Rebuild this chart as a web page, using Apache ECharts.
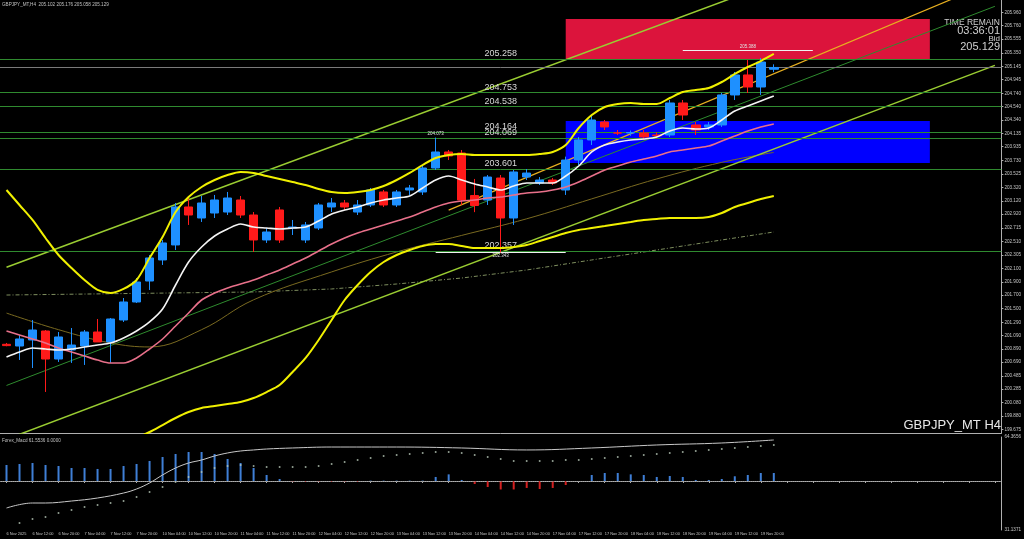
<!DOCTYPE html>
<html><head><meta charset="utf-8">
<script src="https://cdn.jsdelivr.net/npm/echarts@6/dist/echarts.min.js"></script>
<style>html,body{margin:0;padding:0;background:#000;}#c{width:1024px;height:539px;}</style>
</head><body><div id="c"></div>
<script>
// ---------- data ----------
const symbolName = 'GBPJPY_MT';
const timeframe = 'H4';
const barTimes = ['6 Nov 2025','6 Nov 08:00','6 Nov 12:00','6 Nov 16:00','6 Nov 20:00',
 '7 Nov 00:00','7 Nov 04:00','7 Nov 08:00','7 Nov 12:00','7 Nov 16:00','7 Nov 20:00',
 '10 Nov 00:00','10 Nov 04:00','10 Nov 08:00','10 Nov 12:00','10 Nov 16:00','10 Nov 20:00',
 '11 Nov 00:00','11 Nov 04:00','11 Nov 08:00','11 Nov 12:00','11 Nov 16:00','11 Nov 20:00',
 '12 Nov 00:00','12 Nov 04:00','12 Nov 08:00','12 Nov 12:00','12 Nov 16:00','12 Nov 20:00',
 '13 Nov 00:00','13 Nov 04:00','13 Nov 08:00','13 Nov 12:00','13 Nov 16:00','13 Nov 20:00',
 '14 Nov 00:00','14 Nov 04:00','14 Nov 08:00','14 Nov 12:00','14 Nov 16:00','14 Nov 20:00',
 '17 Nov 00:00','17 Nov 04:00','17 Nov 08:00','17 Nov 12:00','17 Nov 16:00','17 Nov 20:00',
 '18 Nov 00:00','18 Nov 04:00','18 Nov 08:00','18 Nov 12:00','18 Nov 16:00','18 Nov 20:00',
 '19 Nov 00:00','19 Nov 04:00','19 Nov 08:00','19 Nov 12:00','19 Nov 16:00','19 Nov 20:00',
 '20 Nov 00:00'];
const futureSlots = 17;
// [open, high, low, close]
const ohlc = [
 [200.96,200.98,200.93,200.94],[200.934,201.100,200.724,201.040],[201.025,201.326,200.603,201.175],
 [201.160,201.175,200.242,200.738],[200.738,201.145,200.694,201.070],[200.874,201.205,200.679,200.949],
 [200.934,201.175,200.649,201.145],[201.145,201.341,200.995,200.995],[200.995,201.356,200.679,201.341],
 [201.326,201.657,201.296,201.597],[201.597,201.958,201.582,201.898],[201.913,202.305,201.778,202.260],
 [202.230,202.531,202.155,202.486],[202.456,203.088,202.380,203.028],[203.028,203.193,202.757,202.907],
 [202.862,203.193,202.802,203.088],[202.937,203.209,202.862,203.133],[202.952,203.254,202.907,203.163],
 [203.133,203.193,202.862,202.907],[202.907,202.952,202.350,202.531],[202.531,202.711,202.486,202.651],
 [202.983,203.028,202.486,202.531],[202.711,202.832,202.606,202.726],[202.531,202.802,202.486,202.757],
 [202.711,203.088,202.681,203.058],[203.028,203.163,202.952,203.088],[203.088,203.133,202.983,203.028],
 [202.952,203.133,202.907,203.058],[203.058,203.314,203.028,203.284],[203.254,203.284,203.028,203.058],
 [203.058,203.284,203.028,203.254],[203.284,203.359,203.209,203.314],[203.254,203.660,203.209,203.615],
 [203.615,204.073,203.585,203.856],[203.856,203.886,203.735,203.796],[203.841,203.886,203.058,203.133],
 [203.200,203.450,202.950,203.050],[203.133,203.509,203.058,203.479],[203.464,203.509,202.343,202.862],
 [202.862,203.585,202.757,203.555],[203.479,203.600,203.434,203.539],[203.389,203.479,203.359,203.434],
 [203.434,203.464,203.359,203.389],[203.284,203.786,203.209,203.735],[203.735,204.082,203.660,204.037],
 [204.037,204.400,203.961,204.338],[204.308,204.338,204.187,204.233],[204.142,204.187,204.112,204.142],
 [204.142,204.180,204.100,204.150],[204.142,204.187,204.037,204.082],[204.112,204.150,204.060,204.100],
 [204.112,204.639,204.082,204.594],[204.594,204.639,204.338,204.413],[204.263,204.308,204.112,204.187],
 [204.233,204.308,204.187,204.263],[204.263,204.745,204.233,204.715],[204.715,205.061,204.639,205.016],
 [205.016,205.242,204.745,204.835],[204.835,205.272,204.715,205.211],[205.102,205.176,205.058,205.129]];
const maFast = [200.769,200.844,200.904,200.889,200.874,200.889,200.919,200.949,200.979,201.055,
 201.160,201.296,201.491,201.853,202.199,202.425,202.591,202.696,202.772,202.726,
 202.711,202.696,202.711,202.726,202.817,202.922,202.982,203.028,203.088,203.133,
 203.163,203.193,203.314,203.434,203.494,203.434,203.374,203.329,203.284,203.344,
 203.389,203.389,203.389,203.494,203.645,203.856,203.961,204.006,204.037,204.052,
 204.082,204.172,204.217,204.202,204.217,204.338,204.473,204.549,204.624,204.699];
const maSlow = [201.160,201.100,201.040,200.979,200.904,200.844,200.784,200.723,200.678,200.678,
 200.754,200.889,201.040,201.235,201.431,201.627,201.732,201.808,201.868,201.928,
 202.003,202.079,202.169,202.260,202.365,202.470,202.561,202.636,202.696,202.756,
 202.817,202.877,202.952,203.028,203.088,203.118,203.133,203.163,203.178,203.208,
 203.238,203.253,203.284,203.329,203.404,203.494,203.585,203.645,203.705,203.750,
 203.796,203.856,203.886,203.916,203.946,204.022,204.097,204.172,204.232,204.278];
const bandUpper = [203.284,203.058,202.832,202.561,202.305,202.109,201.928,201.778,201.732,201.793,
 201.928,202.260,202.576,202.952,203.178,203.329,203.434,203.509,203.555,203.540,
 203.494,203.449,203.404,203.359,203.299,203.253,203.238,203.253,203.284,203.344,
 203.434,203.540,203.660,203.766,203.811,203.826,203.811,203.811,203.811,203.811,
 203.811,203.826,203.856,203.961,204.217,204.413,204.534,204.579,204.594,204.579,
 204.579,204.669,204.759,204.790,204.820,204.910,205.031,205.136,205.226,205.332];
const bandLower = [199.443,199.413,199.383,199.368,199.353,199.338,199.338,199.368,199.398,199.458,
 199.549,199.639,199.744,199.850,199.940,200.001,200.031,200.061,200.091,200.151,
 200.241,200.347,200.543,200.754,201.025,201.326,201.627,201.853,202.049,202.199,
 202.305,202.380,202.440,202.470,202.470,202.440,202.410,202.410,202.410,202.425,
 202.455,202.516,202.576,202.636,202.681,202.711,202.741,202.772,202.802,202.832,
 202.847,202.862,202.862,202.862,202.877,202.937,203.028,203.088,203.148,203.193];
const maOlive = [[0,201.43],[4,201.18],[8,200.98],[11,200.92],[15,201.18],[19,201.63],
 [25,202.05],[30,202.35],[35,202.60],[40,202.85],[45,203.15],[50,203.45],[55,203.70],[59,203.85]];
const maLong = [[0,201.702],[19,201.748],[25,201.793],[30,201.868],[35,201.958],[40,202.079],
 [45,202.230],[50,202.380],[55,202.531],[59,202.651]];
const trendA = [[0,202.12],[60,206.48]];
const trendB = [[0,199.53],[76,205.16]];
const trendC = [[0,200.34],[76,206.05]];
const trendGold = [[34,202.98],[76,206.43]];
const levels = ['205.258','204.753','204.538','204.164','204.069','203.601','202.357'];
const bidPrice = '205.129';
const zoneRed = [43, 71, 205.859, 205.258];
const zoneBlue = [43, 71, 204.323, 203.690];
const highMark = {from:52, to:62, price:'205.388'};
const lowMark = {from:33, to:43, price:'202.343'};
const swingHigh = {bar:33, price:'204.073'};
const priceTicks = ['205.960','205.760','205.555','205.350','205.145','204.945','204.740','204.540',
 '204.340','204.135','203.935','203.730','203.525','203.320','203.120','202.920','202.715','202.510',
 '202.305','202.100','201.900','201.700','201.500','201.290','201.090','200.890','200.690','200.485',
 '200.285','200.080','199.880','199.675'];
const macdHist = [23.4,24.9,26.3,23.4,21.9,19.0,19.0,17.6,17.6,21.9,24.9,29.3,35.1,39.5,42.4,42.4,
 39.5,32.2,26.3,19.0,8.8,2.9,-1.0,-1.0,-1.0,-1.0,-1.0,-1.0,0.5,0.5,0.5,0.5,0.5,5.9,9.7,1.5,
 -4.4,-8.8,-12.4,-12.4,-10.2,-11.7,-10.2,-5.9,0,8.8,11.7,11.7,9.7,8.8,5.9,7.3,5.9,1.5,1.5,2.9,
 6.9,8.8,11.7,11.7];
const macdLine = [[0,-39.5],[2,-32.2],[3,-32.2],[5,-29.3],[7,-24.9],[9,-17.6],[10,-11.7],[11,-2.9],
 [12,8.8],[13,19.0],[14,26.3],[15,30.7],[16,36.6],[17,41.0],[18,43.9],[19,45.4],[20,46.8],
 [22,48.3],[25,49.7],[30,49.7],[35,48.3],[40,45.4],[45,48.3],[50,52.7],[55,55.6],[59,60.0]];
const macdSignal = [null,-61.4,-55.6,-52.7,-46.8,-42.4,-38.0,-35.1,-32.2,-29.3,-23.4,-16.1,-8.8,-1.5,
 5.9,13.2,19.0,21.9,23.4,21.9,20.5,20.5,20.5,20.5,21.9,24.9,27.8,30.7,33.6,36.6,38.0,39.5,41.0,
 42.4,42.4,41.0,38.0,35.1,32.2,29.3,29.3,29.3,29.3,30.7,30.7,32.2,33.6,35.1,36.6,38.0,39.5,41.0,
 42.4,43.9,45.4,46.8,48.3,49.7,51.2,52.7];
const subTicks = ['64.3656','31.1371'];
const subRange = [-71.7, 64.3656];
const subTitle = 'Forex_Macd 61.5536 0.0000';
const timeRemain = '03:36:01';

// ---------- build ----------
const cats = barTimes.concat(new Array(futureSlots).fill(''));
const last = ohlc[ohlc.length - 1];
const candleData = ohlc.map(d => [d[0], d[3], d[2], d[1]]);
const BULL = '#1e90ff', BEAR = '#ff1a1a';
const FONT = 'Liberation Sans';
const gridL = -7.56, gridR = 21;

const levelLines = levels.map(v => ({yAxis: +v, label: {formatter: v}}));
const levelBoxes = levels.map(v => ({yAxis: +v, label: {formatter: v}}))
  .concat([{yAxis: +bidPrice, label: {formatter: bidPrice, backgroundColor: '#f0f0f0', color: '#000'}}]);

const chart = echarts.init(document.getElementById('c'));
chart.setOption({
  backgroundColor: '#000',
  animation: false,
  grid: [
    {left: gridL, right: gridR, top: 0, height: 433},
    {left: gridL, right: gridR, top: 437, height: 93}
  ],
  xAxis: [
    {type: 'category', gridIndex: 0, data: cats, boundaryGap: true,
     axisLine: {show: true, lineStyle: {color: '#b0b0b0', width: 1}},
     axisTick: {show: false}, axisLabel: {show: false}, splitLine: {show: false}},
    {type: 'category', gridIndex: 1, data: cats, boundaryGap: true,
     axisLine: {show: true, lineStyle: {color: '#b0b0b0', width: 1}},
     axisTick: {show: true, interval: 1, alignWithLabel: true, length: 2, lineStyle: {color: '#b0b0b0'}},
     axisLabel: {show: true, interval: 1, align: 'left', color: '#c8c8c8', fontSize: 3.9, fontFamily: FONT, margin: 2},
     splitLine: {show: false}}
  ],
  yAxis: [
    {type: 'value', gridIndex: 0, position: 'right', min: 199.624, max: 206.145,
     splitLine: {show: false},
     axisLine: {show: true, lineStyle: {color: '#b0b0b0'}},
     axisTick: {show: true, length: 2, customValues: priceTicks.map(Number), lineStyle: {color: '#b0b0b0'}},
     axisLabel: {customValues: priceTicks.map(Number), formatter: v => v.toFixed(3),
       color: '#c8c8c8', fontSize: 4.6, fontFamily: FONT, margin: 3}},
    {type: 'value', gridIndex: 1, position: 'right', min: subRange[0], max: subRange[1],
     splitLine: {show: false},
     axisLine: {show: true, lineStyle: {color: '#b0b0b0'}},
     axisTick: {show: false},
     axisLabel: {customValues: [subRange[1], subRange[0]],
       formatter: v => (v === subRange[1] ? subTicks[0] : subTicks[1]),
       color: '#c8c8c8', fontSize: 4.6, fontFamily: FONT, margin: 3}}
  ],
  series: [
    {type: 'line', name: 'zones', xAxisIndex: 0, yAxisIndex: 0, data: [], z: 1,
     markArea: {silent: true, data: [
       [{coord: [zoneRed[0], zoneRed[2]], itemStyle: {color: '#dc143c'}}, {coord: [zoneRed[1], zoneRed[3]]}],
       [{coord: [zoneBlue[0], zoneBlue[2]], itemStyle: {color: '#0000ff'}}, {coord: [zoneBlue[1], zoneBlue[3]]}]
     ]}},
    {type: 'line', name: 'levels', xAxisIndex: 0, yAxisIndex: 0, data: [], z: 2,
     markLine: {silent: true, symbol: 'none', animation: false,
       lineStyle: {color: '#2f8a2f', width: 1, type: 'solid'},
       label: {show: true, position: 'insideMiddleTop', distance: 1, color: '#d8d8d8', fontSize: 9, fontFamily: FONT},
       data: levelLines.concat([{yAxis: +bidPrice, lineStyle: {color: '#7a7a7a'}, label: {show: false}}])}},
    {type: 'line', name: 'boxes', xAxisIndex: 0, yAxisIndex: 0, data: [], z: 20,
     markLine: {silent: true, symbol: 'none', animation: false,
       lineStyle: {opacity: 0},
       label: {show: true, position: 'end', distance: 1, color: '#000', backgroundColor: '#1ec81e',
         fontSize: 4.6, fontFamily: FONT, padding: [1, 1, 1, 1]},
       data: levelBoxes}},
    {type: 'line', name: 'marks', xAxisIndex: 0, yAxisIndex: 0, data: [], z: 6,
     markLine: {silent: true, symbol: 'none', animation: false,
       lineStyle: {color: '#f0f0f0', width: 1, type: 'solid'},
       label: {show: true, color: '#e0e0e0', fontSize: 4.5, fontFamily: FONT},
       data: [
         [{coord: [highMark.from, +highMark.price], label: {position: 'insideMiddleTop', formatter: highMark.price, distance: 1}},
          {coord: [highMark.to, +highMark.price]}],
         [{coord: [lowMark.from, +lowMark.price], label: {position: 'insideMiddleBottom', formatter: lowMark.price, distance: 1}},
          {coord: [lowMark.to, +lowMark.price]}]
       ]},
     markPoint: {silent: true, symbolSize: 0, animation: false,
       label: {show: true, position: 'top', color: '#e0e0e0', fontSize: 4.5, fontFamily: FONT, distance: 1},
       data: [{coord: [swingHigh.bar, +swingHigh.price], value: swingHigh.price}]}},
    {type: 'line', name: 'trendC', data: trendC, symbol: 'none', z: 3,
     lineStyle: {color: '#2e8b2e', width: 1}},
    {type: 'line', name: 'maLong', data: maLong, symbol: 'none', z: 3,
     lineStyle: {color: '#7f8f5f', width: 1, type: [4, 2, 1, 2]}},
    {type: 'line', name: 'maOlive', data: maOlive, symbol: 'none', z: 3, smooth: 0.4,
     lineStyle: {color: '#7a6a20', width: 1}},
    {type: 'line', name: 'trendA', data: trendA, symbol: 'none', z: 3,
     lineStyle: {color: '#9acd32', width: 1.5}},
    {type: 'line', name: 'trendB', data: trendB, symbol: 'none', z: 3,
     lineStyle: {color: '#9acd32', width: 1.5}},
    {type: 'line', name: 'trendGold', data: trendGold, symbol: 'none', z: 3,
     lineStyle: {color: '#e8b020', width: 1.2}},
    {type: 'candlestick', name: symbolName, xAxisIndex: 0, yAxisIndex: 0, data: candleData, z: 5,
     barWidth: 9,
     itemStyle: {color: BULL, color0: BEAR, borderColor: BULL, borderColor0: BEAR, borderWidth: 1}},
    {type: 'line', name: 'bandUpper', data: bandUpper, symbol: 'none', z: 7, smooth: 0.3,
     lineStyle: {color: '#f0f000', width: 2}},
    {type: 'line', name: 'bandLower', data: bandLower, symbol: 'none', z: 7, smooth: 0.3,
     lineStyle: {color: '#f0f000', width: 2}},
    {type: 'line', name: 'maSlow', data: maSlow, symbol: 'none', z: 7, smooth: 0.3,
     lineStyle: {color: '#e8708a', width: 1.6}},
    {type: 'line', name: 'maFast', data: maFast, symbol: 'none', z: 8, smooth: 0.3,
     lineStyle: {color: '#f4f4f4', width: 1.6}},
    // sub window
    {type: 'bar', name: 'hist', xAxisIndex: 1, yAxisIndex: 1, data: macdHist, barWidth: 2, z: 3,
     itemStyle: {color: p => (p.value >= 0 ? '#3f7fd6' : '#d42020')},
     markLine: {silent: true, symbol: 'none', animation: false, label: {show: false},
       lineStyle: {color: '#909090', width: 1, type: 'dotted'}, data: [{yAxis: 0}]}},
    {type: 'line', name: 'macdLine', xAxisIndex: 1, yAxisIndex: 1, data: macdLine, symbol: 'none', smooth: 0.4, z: 4,
     lineStyle: {color: '#c8c8c8', width: 1}},
    {type: 'scatter', name: 'signal', xAxisIndex: 1, yAxisIndex: 1, data: macdSignal, symbolSize: 2, z: 4,
     itemStyle: {color: '#b8c8b8'}}
  ],
  graphic: [
    {type: 'text', left: 2, top: 2, style: {text: symbolName + ',' + timeframe + '  ' + last.map(v => v.toFixed(3)).join(' '),
      fill: '#c0c0c0', font: '4.6px ' + FONT}},
    {type: 'text', left: 2, top: 438, style: {text: subTitle, fill: '#c0c0c0', font: '4.6px ' + FONT}},
    {type: 'text', x: 1000, y: 23, style: {text: 'TIME REMAIN', fill: '#d0d0d0', font: '8.5px ' + FONT, align: 'right', verticalAlign: 'middle'}},
    {type: 'text', x: 1000, y: 31, style: {text: timeRemain, fill: '#d0d0d0', font: '11px ' + FONT, align: 'right', verticalAlign: 'middle'}},
    {type: 'text', x: 1000, y: 39, style: {text: 'Bid', fill: '#d0d0d0', font: '8px ' + FONT, align: 'right', verticalAlign: 'middle'}},
    {type: 'text', x: 1000, y: 47, style: {text: bidPrice, fill: '#d0d0d0', font: '11px ' + FONT, align: 'right', verticalAlign: 'middle'}},
    {type: 'text', x: 1001, y: 425, style: {text: symbolName + ' ' + timeframe, fill: '#e8e8e8', font: '13px ' + FONT, align: 'right', verticalAlign: 'middle'}}
  ]
});
</script></body></html>
